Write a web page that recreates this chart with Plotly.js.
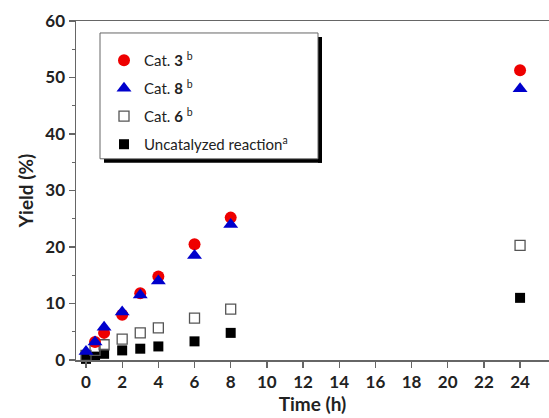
<!DOCTYPE html>
<html>
<head>
<meta charset="utf-8">
<script src="https://cdn.plot.ly/plotly-3.0.1.min.js"></script>
<style>html,body{margin:0;padding:0;background:#fff;}#chart{width:549px;height:418px;}</style>
</head>
<body>
<div id="chart"></div>
<script>
const time = [0, 0.5, 1, 2, 3, 4, 6, 8, 24];
const cat3 = [null, 3.2, 4.8, 8.0, 11.8, 14.8, 20.5, 25.2, 51.3];
const cat8 = [1.5, 3.2, 5.8, 8.5, 11.5, 14.0, 18.5, 24.0, 48.0];
const cat6 = [0.8, 1.7, 2.7, 3.7, 4.8, 5.7, 7.4, 9.0, 20.3];
const uncat = [0.2, 0.6, 1.1, 1.7, 2.0, 2.4, 3.3, 4.8, 11.0];
const xTicks = [0, 2, 4, 6, 8, 10, 12, 14, 16, 18, 20, 22, 24];
const yTicks = [0, 10, 20, 30, 40, 50, 60];
const names = ['Cat. <b>3</b> <sup>b</sup>', 'Cat. <b>8</b> <sup>b</sup>', 'Cat. <b>6</b> <sup>b</sup>', 'Uncatalyzed reaction<sup>a</sup>'];

const FONT = 'Lato, "Open Sans", sans-serif';
const W = 549, H = 418, ML = 76, MR = 0, MT = 21, MB = 57.5;
const PW = W - ML - MR, PH = H - MT - MB;
const px = v => (v - ML) / PW;
const py = v => (H - MB - v) / PH;

const traces = [
  {x: time, y: uncat, name: names[3], legendrank: 4, legendgroup: 'd',
   marker: {symbol: 'square', size: 10, color: '#000', line: {width: 0}}},
  {x: time, y: cat6, name: names[2], legendrank: 3, legendgroup: 'c',
   marker: {symbol: 'square-open', size: 10, color: '#555', line: {width: 1.3}}},
  {x: time, y: cat3, name: names[0], legendrank: 1, legendgroup: 'a',
   marker: {symbol: 'circle', size: 12, color: '#ee0000', line: {width: 0}}},
  {x: time, y: cat8, name: names[1], legendrank: 2, legendgroup: 'b',
   marker: {symbol: 'triangle-up', size: 13, color: '#0000cc', line: {width: 0}}}
].map(t => Object.assign({type: 'scatter', mode: 'markers', cliponaxis: false}, t));

const shapes = [
  {type: 'rect', xref: 'paper', yref: 'paper', x0: px(318), x1: px(322), y0: py(163), y1: py(37),
   fillcolor: '#000', line: {width: 0}, layer: 'below'},
  {type: 'rect', xref: 'paper', yref: 'paper', x0: px(104), x1: px(322), y0: py(163), y1: py(159),
   fillcolor: '#000', line: {width: 0}, layer: 'below'},
  {type: 'rect', xref: 'paper', yref: 'paper', x0: px(100), x1: px(318), y0: py(159), y1: py(33),
   fillcolor: '#fff', line: {width: 1, color: '#666'}, layer: 'below'}
];

const layout = {
  width: W, height: H,
  margin: {l: ML, r: MR, t: MT, b: MB},
  paper_bgcolor: '#fff', plot_bgcolor: 'rgba(0,0,0,0)',
  font: {family: FONT, color: '#222'},
  showlegend: true,
  shapes: shapes,
  legend: {
    x: px(104), y: py(44), xanchor: 'left', yanchor: 'top',
    borderwidth: 0, bgcolor: 'rgba(0,0,0,0)',
    font: {size: 15, family: FONT, color: '#222'},
    traceorder: 'grouped', tracegroupgap: 5.5,
    entrywidth: 190, itemwidth: 30
  },
  xaxis: {
    range: [-0.553, 25.6], tickvals: xTicks, ticktext: xTicks.map(String),
    ticks: 'outside', ticklen: 6, tickwidth: 1.3, tickcolor: '#666',
    showline: true, linecolor: '#666', linewidth: 1.5, mirror: true,
    showgrid: false, zeroline: false,
    tickfont: {size: 17, family: FONT, color: '#222', weight: 'bold'},
    title: {text: '<b>Time (h)</b>', font: {size: 19, family: FONT, color: '#222'}, standoff: 7}
  },
  yaxis: {
    range: [0, 60], tickvals: yTicks, ticktext: yTicks.map(String),
    ticks: 'outside', ticklen: 6, tickwidth: 1.3, tickcolor: '#666',
    minor: {dtick: 5, ticks: 'outside', ticklen: 3, tickwidth: 1.2, tickcolor: '#666', showgrid: false},
    showline: true, linecolor: '#666', linewidth: 1.5,
    showgrid: false, zeroline: false,
    tickfont: {size: 17, family: FONT, color: '#222', weight: 'bold'},
    title: {text: '<b>Yield (%)</b>', font: {size: 19, family: FONT, color: '#222'}, standoff: 6}
  }
};

Plotly.newPlot('chart', traces, layout, {displayModeBar: false, staticPlot: true});
</script>
</body>
</html>
